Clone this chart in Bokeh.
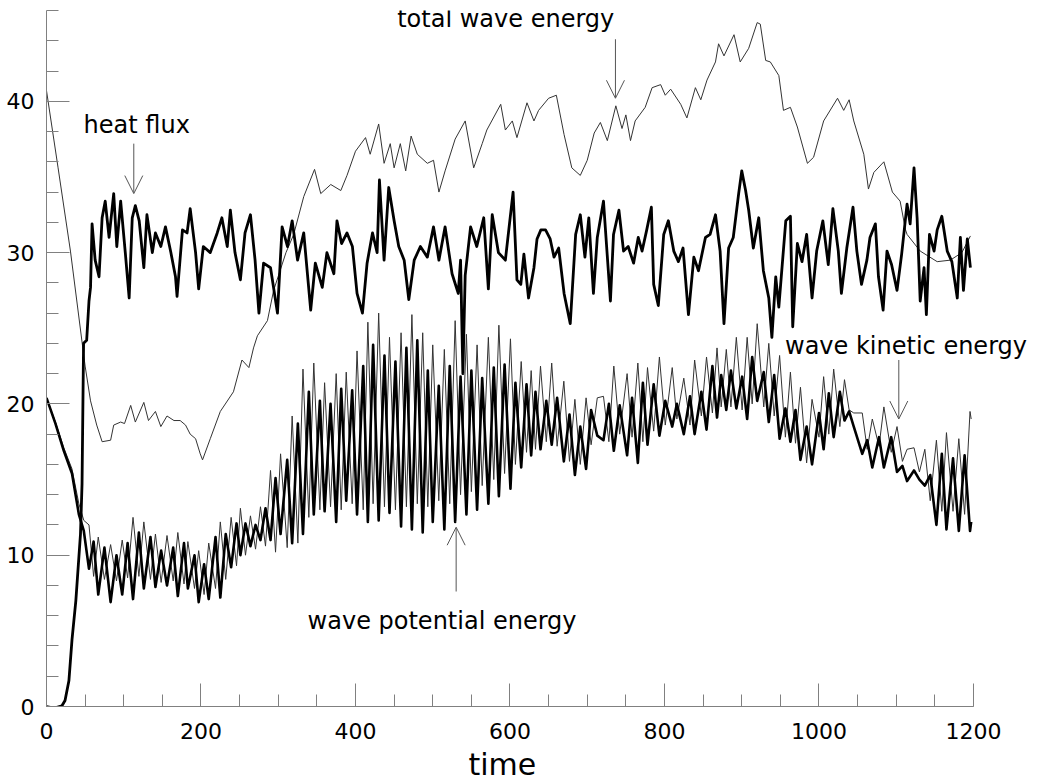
from bokeh.plotting import figure
from bokeh.models import FixedTicker, Label, Arrow, OpenHead
from bokeh.embed import file_html
from bokeh.resources import INLINE

# ---------------- data ----------------
# heat flux (thick black): (time, value)
heat_flux = [
    (0, 0.0), (10, -0.1), (20, 0.05), (24, 0.4), (29, 1.7), (33, 4.4), (38, 7.0), (44, 11.4),
    (46, 14.7), (48, 24.0), (52, 24.2), (55, 26.8), (57, 27.7), (59, 31.9), (63, 29.5), (68, 28.4),
    (72, 32.3), (76, 33.4), (81, 31.0), (87, 33.9), (91, 30.4), (96, 33.4), (102, 30.0), (107, 27.0),
    (111, 32.3), (115, 33.1), (120, 32.1), (126, 29.0), (130, 32.5), (137, 30.0), (141, 31.3),
    (148, 30.4), (154, 31.7), (161, 30.0), (167, 28.4), (169, 27.1), (176, 31.5), (182, 31.3),
    (186, 32.9), (193, 30.0), (197, 27.6), (203, 30.4), (212, 30.0), (221, 31.3), (227, 32.3),
    (234, 30.4), (238, 32.8), (244, 30.0), (251, 28.2), (257, 31.3), (264, 32.5), (270, 29.5),
    (275, 26.0), (281, 29.3), (290, 29.0), (299, 26.0), (305, 31.7), (312, 30.4), (318, 32.1),
    (325, 29.5), (333, 31.3), (342, 26.2), (348, 29.3), (357, 27.7), (363, 30.0), (372, 28.6),
    (376, 32.1), (382, 30.6), (389, 31.3), (396, 30.4), (402, 27.3), (409, 26.0), (415, 29.3),
    (422, 31.3), (428, 30.0), (431, 34.8), (437, 29.5), (443, 34.3), (450, 32.1), (456, 30.4),
    (463, 29.5), (469, 26.9), (476, 29.5), (484, 30.4), (493, 29.7), (501, 31.7), (508, 29.5),
    (516, 31.7), (525, 28.6), (533, 27.3), (536, 29.5), (539, 22.0), (542, 28.5), (549, 31.7),
    (557, 30.4), (566, 32.3), (572, 27.6), (577, 32.5), (585, 30.0), (594, 29.5), (604, 34.0),
    (609, 28.2), (614, 27.9), (618, 29.9), (624, 27.0), (631, 29.0), (635, 30.9), (640, 31.5),
    (646, 31.5), (652, 30.9), (657, 29.7), (663, 30.3), (670, 27.3), (678, 25.3), (685, 31.2),
    (691, 32.5), (697, 29.7), (702, 32.3), (708, 27.3), (713, 31.0), (721, 33.4), (730, 26.8),
    (734, 31.2), (741, 32.8), (747, 30.1), (753, 30.4), (760, 29.3), (766, 31.0), (771, 30.1),
    (777, 31.5), (783, 33.0), (786, 27.9), (792, 26.5), (799, 31.2), (805, 32.1), (812, 30.1),
    (818, 29.4), (824, 30.3), (831, 25.9), (838, 29.7), (844, 28.8), (853, 31.0), (859, 31.2),
    (866, 32.5), (872, 30.1), (877, 25.3), (883, 30.3), (889, 31.0), (896, 33.9), (900, 35.4),
    (905, 34.1), (909, 32.8), (915, 30.3), (922, 32.3), (928, 28.8), (935, 27.0), (939, 24.4),
    (944, 28.4), (948, 26.4), (957, 32.1), (963, 32.4), (966, 25.1), (972, 30.6), (978, 29.4),
    (984, 31.2), (991, 27.0), (997, 30.1), (1005, 32.1), (1012, 29.2), (1018, 32.9), (1025, 30.1),
    (1029, 27.3), (1036, 30.3), (1044, 33.0), (1049, 30.1), (1055, 27.9), (1062, 29.5),
    (1066, 31.0), (1073, 31.9), (1077, 28.4), (1083, 26.2), (1088, 30.1), (1094, 29.2),
    (1101, 27.5), (1107, 29.9), (1114, 33.2), (1118, 31.9), (1123, 35.6), (1127, 32.3),
    (1131, 26.8), (1136, 29.0), (1139, 25.9), (1143, 31.2), (1149, 30.1), (1153, 31.5),
    (1159, 32.4), (1166, 30.1), (1172, 29.4), (1179, 27.0), (1183, 31.0), (1187, 27.5),
    (1192, 30.9), (1196, 29.0),
]

# total wave energy (thin line): (time, value)
total_wave = [
    (0, 40.7), (15, 35.6), (31, 30.1), (50, 22.5), (57, 20.2), (65, 18.6), (72, 17.5), (83, 17.6),
    (87, 18.6), (96, 18.8), (101, 18.7), (109, 19.9), (115, 18.8), (126, 20.1), (132, 18.9),
    (141, 19.5), (148, 18.5), (156, 19.2), (165, 18.9), (173, 18.9), (180, 18.6), (186, 18.0),
    (193, 17.7), (199, 16.7), (202, 16.3), (212, 17.7), (225, 19.5), (242, 20.8), (253, 22.9),
    (262, 22.4), (268, 23.7), (273, 24.5), (286, 25.5), (294, 27.5), (310, 30.0), (320, 31.2),
    (333, 33.7), (347, 35.5), (355, 33.9), (368, 34.5), (381, 34.1), (389, 35.1), (400, 36.7),
    (413, 37.6), (419, 36.5), (430, 38.5), (437, 35.9), (445, 37.2), (450, 35.6), (458, 37.2),
    (465, 35.4), (472, 37.7), (480, 36.5), (493, 35.9), (501, 36.1), (508, 34.0), (516, 35.4),
    (529, 37.5), (542, 38.7), (553, 35.6), (564, 37.2), (570, 38.1), (588, 39.8), (594, 38.1),
    (603, 38.7), (609, 37.6), (622, 39.9), (631, 38.7), (637, 39.4), (650, 40.2), (660, 40.4),
    (670, 37.8), (680, 35.6), (691, 35.1), (700, 36.1), (709, 37.9), (717, 38.6), (726, 37.4),
    (737, 39.7), (745, 38.2), (750, 39.1), (756, 37.4), (762, 38.7), (775, 39.6), (784, 40.9),
    (795, 41.1), (801, 40.4), (808, 40.8), (821, 39.8), (829, 38.9), (840, 40.9), (847, 40.1),
    (855, 41.4), (866, 42.6), (870, 43.8), (877, 43.0), (890, 44.4), (898, 42.6), (909, 43.5),
    (920, 45.2), (924, 45.1), (931, 42.7), (937, 42.6), (948, 41.7), (954, 39.4), (963, 39.6),
    (972, 38.3), (985, 35.9), (993, 36.3), (1006, 38.7), (1024, 40.2), (1032, 39.4), (1039, 40.1),
    (1045, 38.7), (1058, 36.5), (1064, 34.2), (1071, 35.3), (1084, 36.0), (1095, 34.0),
    (1105, 33.4), (1112, 31.5), (1114, 31.2), (1131, 30.1), (1153, 29.4), (1170, 29.5),
    (1185, 30.0), (1196, 31.1),
]

# wave potential energy (thick) and wave kinetic energy (thin): (time, potential, kinetic)
wave_pe_ke = [
    (0, 20.4, 20.4), (11.6, 18.7, 18.8), (22.4, 16.9, 17.1), (33, 15.4, 15.7), (41.9, 12.7, 13.4),
    (48.3, 11.6, 12.3), (55, 9.1, 12.0), (61, 10.9, 8.6), (67, 7.4, 11.2), (75, 10.5, 8.4),
    (83, 6.9, 10.7), (90.6, 10.0, 8.3), (98, 7.4, 11.0), (105, 10.8, 8.5), (112, 7.1, 12.5),
    (119.6, 11.5, 8.6), (126, 7.8, 12.2), (134.6, 11.2, 8.4), (141, 7.9, 11.4), (148.4, 10.3, 8.2),
    (156, 8.0, 11.3), (164, 10.5, 8.3), (170, 7.3, 11.5), (178, 10.8, 8.1), (183, 7.8, 10.9),
    (191.6, 10.0, 7.8), (197, 6.9, 10.3), (204, 9.4, 7.4), (210, 7.1, 10.8), (218.8, 11.2, 7.8),
    (225, 7.2, 12.2), (232, 11.4, 8.4), (239, 9.2, 12.5), (246, 12.1, 9.3), (251, 10.0, 13.1),
    (257.6, 12.1, 10.0), (264, 10.6, 12.6), (270.6, 12.0, 10.4), (277, 11.0, 13.2),
    (283.5, 13.1, 10.6), (290, 11.0, 15.6), (296.5, 15.1, 10.2), (303, 11.4, 16.7),
    (311.6, 16.3, 10.5), (318, 10.8, 19.2), (325.4, 18.7, 10.8), (332, 11.4, 22.3),
    (339.6, 20.8, 12.5), (346, 12.7, 22.7), (353.9, 20.2, 13.0), (360, 12.9, 21.4),
    (367.7, 20.0, 13.2), (375, 12.2, 22.0), (381.5, 21.0, 13.0), (388, 13.6, 22.1),
    (395.7, 20.9, 13.4), (402, 12.7, 23.5), (410, 22.5, 13.0), (416, 12.2, 25.4),
    (422.8, 23.9, 13.4), (430, 12.3, 26.0), (437.5, 23.2, 13.2), (444, 12.8, 24.4),
    (451.7, 22.8, 13.0), (459, 11.9, 24.7), (465.9, 23.7, 13.2), (473, 11.7, 25.9),
    (480, 24.2, 13.4), (487, 11.5, 24.7), (493.6, 22.2, 13.2), (500, 12.2, 23.9),
    (507.8, 21.2, 13.6), (515, 11.7, 23.6), (522, 22.5, 13.4), (529, 12.2, 25.5),
    (536, 21.8, 14.0), (543.6, 12.7, 24.6), (550, 22.2, 14.2), (557.4, 13.0, 23.9),
    (564, 21.7, 14.6), (572, 13.4, 24.4), (579, 22.4, 15.0), (585.6, 13.9, 25.2),
    (593, 22.6, 15.4), (600.6, 14.4, 24.3), (607, 21.4, 16.0), (614.5, 15.8, 22.8),
    (621.4, 21.3, 16.8), (627.4, 16.6, 22.2), (633, 20.8, 17.0), (639.5, 17.0, 22.5),
    (647, 20.2, 17.5), (654, 17.3, 22.7), (661, 20.4, 17.2), (669.7, 16.2, 21.5),
    (677, 19.3, 16.2), (684, 15.3, 20.3), (691, 18.5, 16.0), (698.5, 15.7, 20.4),
    (705, 19.6, 17.3), (713, 17.9, 20.4), (721, 17.6, 20.5), (728, 20.0, 17.5),
    (734.4, 16.9, 22.5), (742, 19.9, 18.0), (751.6, 16.6, 22.0), (758, 20.4, 17.8),
    (765.5, 16.1, 22.7), (772, 21.4, 17.5), (778, 17.3, 22.4), (786, 21.3, 18.2),
    (793.4, 17.9, 23.1), (801, 20.2, 18.6), (810, 18.5, 22.4), (816, 20.0, 19.0),
    (825, 18.0, 21.7), (833, 20.5, 18.6), (839, 18.0, 22.9), (847.7, 20.8, 19.2),
    (854.4, 18.3, 23.1), (862, 22.5, 19.4), (868, 19.1, 23.7), (873.4, 21.9, 19.8),
    (880, 19.6, 23.6), (886, 22.2, 19.8), (893, 19.7, 24.4), (900.5, 21.8, 19.6),
    (907, 19.0, 24.4), (913.5, 23.1, 20.0), (920, 20.2, 25.3), (928.5, 22.1, 19.8),
    (935, 18.8, 24.0), (942, 21.9, 19.2), (949, 17.7, 23.2), (956.5, 19.7, 17.8),
    (963, 17.5, 22.1), (969.6, 19.6, 17.4), (976, 16.3, 21.1), (984, 18.5, 16.1),
    (991, 16.0, 20.3), (1000, 19.4, 17.8), (1006, 17.0, 21.8), (1012.7, 20.7, 18.0),
    (1019, 17.8, 22.3), (1027, 20.8, 18.5), (1033, 18.9, 21.6), (1039, 19.5, 19.6),
    (1045, 18.5, 19.4), (1056, 16.7, 19.4), (1062.4, 17.6, 17.0), (1069, 15.8, 19.0),
    (1077.7, 17.8, 17.2), (1084, 15.8, 19.8), (1093.5, 17.8, 16.8), (1101, 15.5, 18.5),
    (1108, 15.9, 16.2), (1114, 14.9, 17.0), (1123, 15.6, 17.1), (1130, 15.0, 15.5),
    (1137, 14.6, 17.0), (1144, 15.3, 13.6), (1152, 12.0, 17.6), (1159, 16.7, 12.9),
    (1165, 11.7, 18.1), (1173.5, 16.4, 12.9), (1181, 11.6, 17.7), (1188.5, 16.6, 12.7),
    (1195.5, 11.6, 19.5), (1197, 12.2, 19.0),
]

x_major = [0, 200, 400, 600, 800, 1000, 1200]
y_major = [0, 10, 20, 30, 40]
x_title = "time"

# annotations: (text, x, y) and arrows (x0, y0, x1, y1) in data units
notes = [
    ("heat flux", 48, 38.45),
    ("total wave energy", 454, 45.45),
    ("wave kinetic energy", 956, 23.85),
    ("wave potential energy", 338, 5.65),
]
arrows = [
    (113, 37.2, 113, 33.9),
    (736.5, 44.1, 736.5, 40.2),
    (1103.3, 22.9, 1103.3, 19.0),
    (530.3, 7.6, 530.3, 11.85),
]

# ---------------- figure ----------------
FONT = "DejaVu Sans"
X_VIEW_END = 1282.85   # frame runs to the right edge of the page; the axis stops at 1200
p = figure(width=1037, height=781, x_range=(0, X_VIEW_END), y_range=(0, 46),
           output_backend="svg", toolbar_location=None,
           min_border_left=46, min_border_right=0, min_border_top=10, min_border_bottom=75)
p.outline_line_color = None
p.grid.visible = False
p.background_fill_color = "white"
p.border_fill_color = "white"

AX = "#808080"
for ax in (p.xaxis[0], p.yaxis[0]):
    ax.axis_line_color = AX
    ax.major_tick_line_color = AX
    ax.minor_tick_line_color = AX
    ax.major_tick_in = 23
    ax.major_tick_out = 0
    ax.minor_tick_in = 12
    ax.minor_tick_out = 0
    ax.major_label_text_font = FONT
    ax.major_label_text_font_size = "22px"
    ax.major_label_text_color = "black"

p.xaxis.bounds = (0, 1200)
p.xaxis.ticker = FixedTicker(ticks=x_major, minor_ticks=list(range(0, 1201, 50)))
p.yaxis.ticker = FixedTicker(ticks=y_major, minor_ticks=list(range(0, 47, 2)))
p.xaxis.major_label_standoff = 16
p.yaxis.major_label_standoff = 12

# axis title placed in the panel below the frame, centred under t = 590
p.add_layout(Label(x=590, y=12, y_units="screen", text=x_title, text_font=FONT,
                   text_font_size="30px", text_align="center",
                   text_baseline="alphabetic", text_color="black"), "below")

tw_t = [a for a, b in total_wave]
tw_v = [b for a, b in total_wave]
w_t = [a for a, b, c in wave_pe_ke]
pe_v = [b for a, b, c in wave_pe_ke]
ke_v = [c for a, b, c in wave_pe_ke]
hf_t = [a for a, b in heat_flux]
hf_v = [b for a, b in heat_flux]

p.line(tw_t, tw_v, line_color="#333333", line_width=1)
p.line(w_t, ke_v, line_color="#333333", line_width=1)
p.line(w_t, pe_v, line_color="black", line_width=2.6, line_join="round")
p.line(hf_t, hf_v, line_color="black", line_width=2.8, line_join="round")

for x0, y0, x1, y1 in arrows:
    p.add_layout(Arrow(end=OpenHead(size=18, line_color="#555555", line_width=1),
                       x_start=x0, y_start=y0, x_end=x1, y_end=y1,
                       line_color="#555555", line_width=1))

for txt, x, y in notes:
    p.add_layout(Label(x=x, y=y, text=txt, text_font=FONT, text_font_size="24px",
                       text_baseline="alphabetic", text_color="black"))

open("out.html", "w").write(file_html(p, INLINE))
